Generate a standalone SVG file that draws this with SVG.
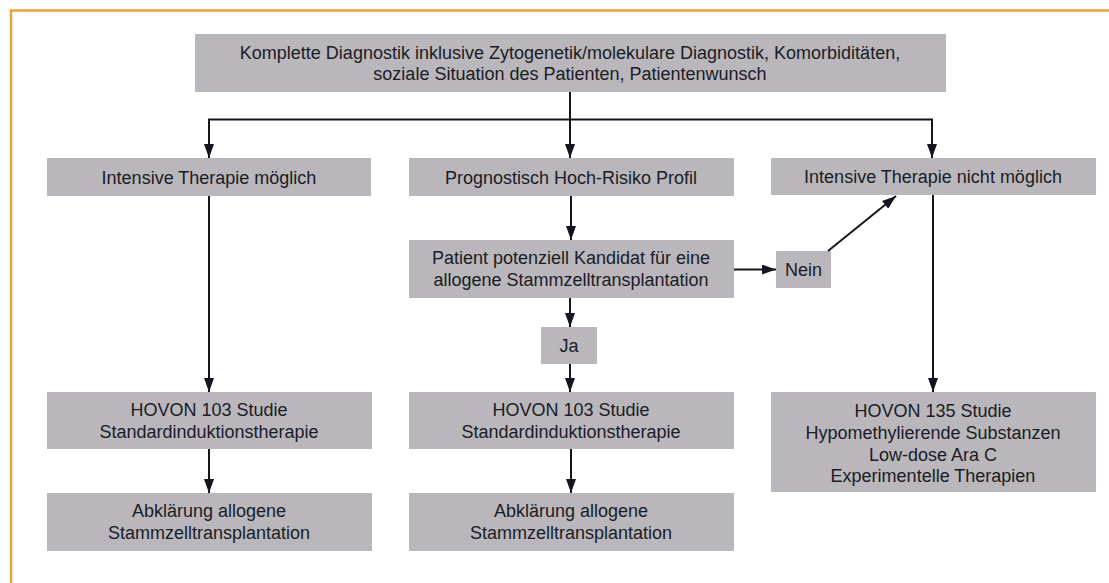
<svg xmlns="http://www.w3.org/2000/svg" width="1109" height="583" viewBox="0 0 1109 583">
<style>
.box{fill:#b9b7bb}
.t{font-family:"Liberation Sans",Arial,sans-serif;font-size:18px;fill:#1b1b26;text-anchor:middle}
.c{fill:none;stroke:#15151f;stroke-width:2}
.border{fill:none;stroke:#e9a23b;stroke-width:2.5}
</style>
<defs>
<marker id="ah" markerUnits="userSpaceOnUse" markerWidth="14" markerHeight="10" refX="14" refY="5" orient="auto" viewBox="0 0 14 10">
<path d="M0,0 L14,5 L0,10 z" fill="#15151f"/>
</marker>
</defs>
<rect width="1109" height="583" fill="#ffffff"/>
<path class="border" d="M11,583 V10.5 H1109"/>

<g id="n-top">
<rect class="box" x="195" y="34" width="751" height="58"/>
<text class="t" x="570" y="59">Komplette Diagnostik inklusive Zytogenetik/molekulare Diagnostik, Komorbiditäten,</text>
<text class="t" x="570" y="80">soziale Situation des Patienten, Patientenwunsch</text>
</g>
<g id="n-intensiv">
<rect class="box" x="47" y="158" width="324" height="38"/>
<text class="t" x="209" y="183.5">Intensive Therapie möglich</text>
</g>
<g id="n-prognose">
<rect class="box" x="409" y="158" width="325" height="38"/>
<text class="t" x="571" y="183.5">Prognostisch Hoch-Risiko Profil</text>
</g>
<g id="n-nicht">
<rect class="box" x="771" y="158" width="325" height="37"/>
<text class="t" x="933" y="183">Intensive Therapie nicht möglich</text>
</g>
<g id="n-patient">
<rect class="box" x="409" y="240" width="325" height="58"/>
<text class="t" x="571" y="264">Patient potenziell Kandidat für eine</text>
<text class="t" x="571" y="286">allogene Stammzelltransplantation</text>
</g>
<g id="n-nein">
<rect class="box" x="776" y="251" width="55" height="37"/>
<text class="t" x="803.5" y="276">Nein</text>
</g>
<g id="n-ja">
<rect class="box" x="541" y="327" width="56" height="37"/>
<text class="t" x="569" y="352">Ja</text>
</g>
<g id="n-hovon103-l">
<rect class="box" x="47" y="392" width="325" height="57"/>
<text class="t" x="209" y="416">HOVON 103 Studie</text>
<text class="t" x="209" y="438">Standardinduktionstherapie</text>
</g>
<g id="n-hovon103-m">
<rect class="box" x="409" y="392" width="325" height="57"/>
<text class="t" x="571" y="416">HOVON 103 Studie</text>
<text class="t" x="571" y="438">Standardinduktionstherapie</text>
</g>
<g id="n-abkl-l">
<rect class="box" x="47" y="493" width="325" height="58"/>
<text class="t" x="209" y="517">Abklärung allogene</text>
<text class="t" x="209" y="539">Stammzelltransplantation</text>
</g>
<g id="n-abkl-m">
<rect class="box" x="409" y="493" width="325" height="58"/>
<text class="t" x="571" y="517">Abklärung allogene</text>
<text class="t" x="571" y="539">Stammzelltransplantation</text>
</g>
<g id="n-hovon135">
<rect class="box" x="771" y="392" width="325" height="100"/>
<text class="t" x="933" y="417">HOVON 135 Studie</text>
<text class="t" x="933" y="439">Hypomethylierende Substanzen</text>
<text class="t" x="933" y="460.5">Low-dose Ara C</text>
<text class="t" x="933" y="482">Experimentelle Therapien</text>
</g>

<g id="connectors">
<path class="c" d="M208,119.5 H933"/>
<path class="c" marker-end="url(#ah)" d="M570,92 V158"/>
<path class="c" marker-end="url(#ah)" d="M209,119.5 V158"/>
<path class="c" marker-end="url(#ah)" d="M932,119.5 V158"/>
<path class="c" marker-end="url(#ah)" d="M209,196 V392"/>
<path class="c" marker-end="url(#ah)" d="M571,196 V240"/>
<path class="c" marker-end="url(#ah)" d="M734,269.5 H776"/>
<path class="c" marker-end="url(#ah)" d="M828,251 L896,196"/>
<path class="c" marker-end="url(#ah)" d="M570,298 V327"/>
<path class="c" marker-end="url(#ah)" d="M570,364 V392"/>
<path class="c" marker-end="url(#ah)" d="M209,449 V493"/>
<path class="c" marker-end="url(#ah)" d="M571,449 V493"/>
<path class="c" marker-end="url(#ah)" d="M933,195 V392"/>
</g>
</svg>
